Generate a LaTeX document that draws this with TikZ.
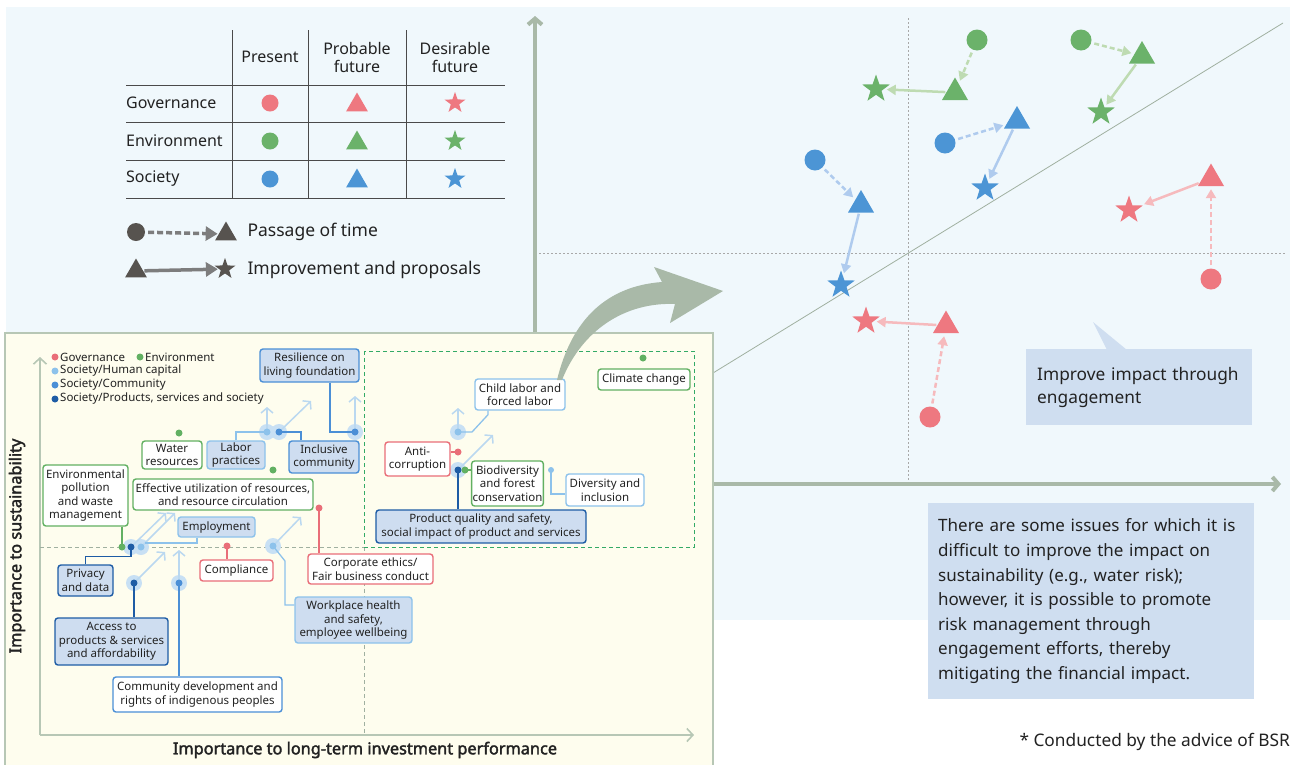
\documentclass[tikz,border=0pt]{standalone}
\usepackage{fontspec}
\setmainfont{Noto Sans}
\newfontfamily\axislabelfont{Noto Sans}[FakeBold=2.2]
\usetikzlibrary{arrows.meta,shapes.geometric,calc}

\definecolor{panelbg}{HTML}{F0F8FC}
\definecolor{insetbg}{HTML}{FEFDEE}
\definecolor{insetline}{HTML}{B7C7B5}
\definecolor{axisgreen}{HTML}{A9B9A8}
\definecolor{dotgray}{HTML}{A8A8A8}
\definecolor{tline}{HTML}{4A4A4A}
\definecolor{txt}{HTML}{222222}
\definecolor{sred}{HTML}{EE7880}
\definecolor{sgreen}{HTML}{6BB26A}
\definecolor{sblue}{HTML}{4C95D5}
\definecolor{lred}{HTML}{F6BABD}
\definecolor{lgreen}{HTML}{BEDBB2}
\definecolor{lblue}{HTML}{AFCBEE}
\definecolor{legdark}{HTML}{57534F}
\definecolor{legarrow}{HTML}{7D7D7D}
\definecolor{callfill}{HTML}{CFDEF0}
\definecolor{igov}{HTML}{E96E78}
\definecolor{ienv}{HTML}{62B062}
\definecolor{ihum}{HTML}{8DC2EB}
\definecolor{icom}{HTML}{4B8FD6}
\definecolor{iprod}{HTML}{1E5CA5}
\definecolor{palearrow}{HTML}{BAD8F0}
\definecolor{halo}{HTML}{C8E0F4}
\definecolor{boxfill}{HTML}{CEDDF0}
\definecolor{qgray}{HTML}{A0B0A0}
\definecolor{qgreen}{HTML}{33AA66}

\tikzset{
  ibox/.style={draw=#1, rounded corners=3pt, line width=1.4pt, fill=white,
    align=center, inner sep=1pt, text=txt, font=\fontsize{11.5}{13.5}\selectfont},
  filledbox/.style={ibox=#1, fill=boxfill},
  dotm/.style={circle, fill=#1, inner sep=0pt, minimum size=7},
  halom/.style={circle, fill=halo, inner sep=0pt, minimum size=16},
  pale/.style={draw=palearrow, line width=1.5pt, -{Straight Barb[length=5pt,width=12pt]}},
  link/.style={draw=#1, line width=1.3pt},
  pcirc/.style={circle, fill=#1, inner sep=0pt, minimum size=21},
  ptri/.style={regular polygon, regular polygon sides=3, fill=#1, inner sep=0pt, minimum size=30},
  pstar/.style={star, star points=5, star point ratio=2.5, fill=#1, inner sep=0pt, minimum size=29},
  tcirc/.style={circle, fill=#1, inner sep=0pt, minimum size=17},
  ttri/.style={regular polygon, regular polygon sides=3, fill=#1, inner sep=0pt, minimum size=25},
  tstar/.style={star, star points=5, star point ratio=2.5, fill=#1, inner sep=0pt, minimum size=22},
  timearrow/.style={draw=#1, line width=2.5pt, dash pattern=on 5pt off 3pt,
    -{Triangle[length=9pt,width=10pt]}, shorten >=3pt, shorten <=3pt},
  improvearrow/.style={draw=#1, line width=2.5pt,
    -{Triangle[length=9pt,width=10pt]}, shorten >=3pt, shorten <=1pt},
  tabtext/.style={text=txt, font=\fontsize{16}{18}\selectfont},
  legtext/.style={text=txt, font=\fontsize{17.5}{20}\selectfont, anchor=west},
  keytext/.style={text=txt, font=\fontsize{11.5}{13}\selectfont, anchor=west, inner sep=0pt},
  axislabel/.style={text=txt, font=\axislabelfont\fontsize{16.3}{18}\selectfont},
}

\begin{document}
\begin{tikzpicture}[x=1pt,y=-1pt]
\useasboundingbox (0,0) rectangle (1290,764);
\fill[white] (0,0) rectangle (1290,764);
\fill[panelbg] (6,7) rectangle (1290,620);

% ---------- quadrant guides of the right chart ----------
\draw[dotgray, line width=0.8pt, dash pattern=on 2pt off 2pt] (908,18) -- (908,484);
\draw[dotgray, line width=0.8pt, dash pattern=on 2pt off 2pt] (535,253) -- (1285,253);
\draw[qgray, line width=0.8pt] (713,373) -- (1283,23);

% ---------- chart axes ----------
\coordinate (vaxisB) at (535,336);
\coordinate (vaxisT) at (535,16);
\coordinate (haxisL) at (712,484);
\coordinate (haxisR) at (1281,484);
\draw[axisgreen, line width=4pt, -{Straight Barb[length=6pt,width=14pt]}] (vaxisB) -- (vaxisT);
\draw[axisgreen, line width=4pt, -{Straight Barb[length=6pt,width=14pt]}] (haxisL) -- (haxisR);

% ---------- materiality inset ----------
\draw[insetline, fill=insetbg, line width=2pt] (5,333) rectangle (713,775);

% inner axes
\coordinate (iO) at (40,735);
\coordinate (iY) at (40,357);
\coordinate (iX) at (694,735);
\draw[insetline, line width=1.6pt, -{Straight Barb[length=6pt,width=13pt]}] (iO) -- (iY);
\draw[insetline, line width=1.6pt, -{Straight Barb[length=6pt,width=13pt]}] (iO) -- (iX);
\node[rotate=90, axislabel] (ylab) at (17,546) {Importance to sustainability};
\node[axislabel] (xlab) at (365,750) {Importance to long-term investment performance};

% quadrant split
\draw[qgray, line width=0.9pt, dash pattern=on 4pt off 3pt] (40,547) -- (364,547);
\draw[qgray, line width=0.9pt, dash pattern=on 4pt off 3pt] (364,547) -- (364,735);
\draw[qgreen, line width=1pt, dash pattern=on 4pt off 3pt] (364,351) rectangle (694,547);

% category key
\node[dotm=igov] (kgov) at (55,357) {};
\node[keytext] (kgovt) at (60,357) {Governance};
\node[dotm=ienv] (kenv) at (140,357) {};
\node[keytext] (kenvt) at (145,357) {Environment};
\node[dotm=ihum] (khum) at (55,371) {};
\node[keytext] (khumt) at (60,371) {Society/Human capital};
\node[dotm=icom] (kcom) at (55,385) {};
\node[keytext] (kcomt) at (60,385) {Society/Community};
\node[dotm=iprod] (kprd) at (55,399) {};
\node[keytext] (kprdt) at (60,399) {Society/Products, services and society};

% issue positions
\coordinate (hLab) at (267,432);
\coordinate (cInc) at (279,432);
\coordinate (cRes) at (355,432);
\coordinate (eWat) at (179,433);
\coordinate (eEff) at (273,470);
\coordinate (eEnv) at (122,547);
\coordinate (pPri) at (131,547);
\coordinate (hEmp) at (141,547);
\coordinate (gCom) at (227,546);
\coordinate (hWrk) at (273,546);
\coordinate (gCor) at (319,508);
\coordinate (pAcc) at (134,583);
\coordinate (cDev) at (179,583);
\coordinate (eCli) at (643,358);
\coordinate (hChi) at (458,432);
\coordinate (gAnt) at (458,452);
\coordinate (pPrd) at (458,470);
\coordinate (eBio) at (465,470);
\coordinate (hDiv) at (551,470);

% halos behind moving issues
\foreach \p in {hLab,cInc,cRes,pPri,hEmp,hWrk,pAcc,cDev,hChi,pPrd}
  \node[halom] at (\p) {};

% expected movement of issues
\coordinate (hLabT) at (267,407);
\coordinate (cIncT) at (311,401);
\coordinate (cResT) at (355,396);
\coordinate (pPriT) at (166,513);
\coordinate (hEmpT) at (175,513);
\coordinate (hWrkT) at (301,517);
\coordinate (pAccT) at (165,552);
\coordinate (cDevT) at (179,550);
\coordinate (hChiT) at (458,408);
\coordinate (pPrdT) at (493,435);
\draw[pale] (hLab) -- (hLabT);
\draw[pale] (cInc) -- (cIncT);
\draw[pale] (cRes) -- (cResT);
\draw[pale] (pPri) -- (pPriT);
\draw[pale] (hEmp) -- (hEmpT);
\draw[pale] (hWrk) -- (hWrkT);
\draw[pale] (pAcc) -- (pAccT);
\draw[pale] (cDev) -- (cDevT);
\draw[pale] (hChi) -- (hChiT);
\draw[pale] (pPrd) -- (pPrdT);

% issue labels
\node[filledbox=icom, minimum width=99, minimum height=33] (res) at (309.5,365.5) {Resilience on\\living foundation};
\node[ibox=ienv, minimum width=60, minimum height=28] (wat) at (172,455) {Water\\resources};
\node[filledbox=ihum, minimum width=58, minimum height=28] (lab) at (236,455) {Labor\\practices};
\node[filledbox=icom, minimum width=70, minimum height=32] (inc) at (324,457) {Inclusive\\community};
\node[ibox=ienv, minimum width=85, minimum height=61] (envp) at (85.5,495.5) {Environmental\\pollution\\and waste\\management};
\node[ibox=ienv, minimum width=180, minimum height=31] (eff) at (223,494.5) {Effective utilization of resources,\\and resource circulation};
\node[filledbox=ihum, minimum width=77, minimum height=20] (emp) at (216.5,527) {Employment};
\node[ibox=igov, minimum width=73, minimum height=21] (comp) at (236.5,570.5) {Compliance};
\node[ibox=igov, minimum width=125, minimum height=30] (corp) at (370.5,569) {Corporate ethics/\\Fair business conduct};
\node[filledbox=iprod, minimum width=55, minimum height=31] (priv) at (85.5,580.5) {Privacy\\and data};
\node[filledbox=ihum, minimum width=117, minimum height=46] (work) at (353.5,620) {Workplace health\\and safety,\\employee wellbeing};
\node[filledbox=iprod, minimum width=113, minimum height=47] (acc) at (111.5,641.5) {Access to\\products \& services\\and affordability};
\node[ibox=icom, minimum width=169, minimum height=35] (dev) at (197.5,694.5) {Community development and\\rights of indigenous peoples};
\node[ibox=ienv, minimum width=92, minimum height=21] (cli) at (644,379.5) {Climate change};
\node[ibox=ihum, minimum width=90, minimum height=31] (chi) at (520,394.5) {Child labor and\\forced labor};
\node[ibox=igov, minimum width=65, minimum height=34] (anti) at (417.5,459) {Anti-\\corruption};
\node[ibox=ienv, minimum width=71, minimum height=45] (bio) at (507.5,483.5) {Biodiversity\\and forest\\conservation};
\node[ibox=ihum, minimum width=78, minimum height=32] (div) at (605,490) {Diversity and\\inclusion};
\node[filledbox=iprod, minimum width=210, minimum height=33] (prod) at (481,526.5) {Product quality and safety,\\social impact of product and services};

% leader lines from labels to positions
\draw[link=ihum] (lab.north) |- (hLab);
\draw[link=icom] ([xshift=-23pt]inc.north) |- (cInc);
\draw[link=icom] ([xshift=20.5pt]res.south) |- (cRes);
\draw[link=ienv] ([xshift=36.5pt]envp.south) -- (eEnv);
\draw[link=iprod] (priv.north) -- ++(0,-8) -| (pPri);
\draw[link=ihum] ([xshift=-19.5pt]emp.south) |- ($(hEmp)+(4,-4)$);
\draw[link=igov] (gCom) -- (gCom |- comp.north);
\draw[link=ihum] (hWrk) -- ++(12,15) |- ([yshift=15pt]work.west);
\draw[link=igov] (gCor) -- (gCor |- corp.north);
\draw[link=iprod] (pAcc) -- (pAcc |- acc.north);
\draw[link=icom] (cDev) -- (cDev |- dev.north);
\draw[link=ihum] (hChi) -- ++(14,0) -- ([xshift=-32pt,yshift=-4pt]chi.south) -- ([xshift=-32pt]chi.south);
\draw[link=igov] (anti.east |- gAnt) -- (gAnt);
\draw[link=ienv] (eBio) -- (eBio -| bio.west);
\draw[link=iprod] (pPrd) -- (pPrd |- prod.north);
\draw[link=ihum] (hDiv) |- ([yshift=-4pt]div.west);

% issue dots
\node[dotm=ihum] at (hLab) {};
\node[dotm=icom] at (cInc) {};
\node[dotm=icom] at (cRes) {};
\node[dotm=ienv] at (eWat) {};
\node[dotm=ienv] at (eEff) {};
\node[dotm=ienv] at (eEnv) {};
\node[dotm=iprod] at (pPri) {};
\node[dotm=ihum] at (hEmp) {};
\node[dotm=igov] at (gCom) {};
\node[dotm=ihum] at (hWrk) {};
\node[dotm=igov] at (gCor) {};
\node[dotm=iprod] at (pAcc) {};
\node[dotm=icom] at (cDev) {};
\node[dotm=ienv] at (eCli) {};
\node[dotm=ihum] at (hChi) {};
\node[dotm=igov] at (gAnt) {};
\node[dotm=iprod] at (pPrd) {};
\node[dotm=ienv] at (eBio) {};
\node[dotm=ihum, minimum size=6] at (hDiv) {};

% ---------- arrow from the inset to the chart ----------
\fill[axisgreen] (557,380) .. controls (572,318) and (608,286) .. (662,282)
  -- (654,267) -- (723,291) -- (670,323) -- (675,304)
  .. controls (625,302) and (582,330) .. (562,380) -- cycle;

% ---------- call-outs ----------
\fill[callfill] (1093,322) -- (1107,350) -- (1127,350) -- cycle;
\node[fill=callfill, anchor=north west, minimum width=226, minimum height=76,
      text width=204, inner xsep=11pt, align=left, text=txt,
      font=\fontsize{17.3}{23}\selectfont] (impr) at (1026,349)
  {Improve impact through\\engagement};
\node[fill=callfill, anchor=north west, minimum width=326, minimum height=196,
      text width=306, inner xsep=10pt, align=left, text=txt,
      font=\fontsize{17}{24.6}\selectfont] (note) at (928,503)
  {There are some issues for which it is\\difficult to improve the impact on\\sustainability (e.g., water risk);\\however, it is possible to promote\\risk management through\\engagement efforts, thereby\\mitigating the financial impact.};
\node[anchor=east, inner sep=0pt, text=txt, font=\fontsize{17.3}{19}\selectfont] (foot) at (1290,742)
  {* Conducted by the advice of BSR};

% ---------- symbol table ----------
\draw[tline, line width=1pt] (126,85) -- (505,85);
\draw[tline, line width=1pt] (126,122) -- (505,122);
\draw[tline, line width=1pt] (126,160) -- (505,160);
\draw[tline, line width=1pt] (126,198) -- (505,198);
\draw[tline, line width=1pt] (232,30) -- (232,198);
\draw[tline, line width=1pt] (308,30) -- (308,198);
\draw[tline, line width=1pt] (406,30) -- (406,198);
\node[tabtext] (hp) at (270,57) {Present};
\node[tabtext, align=center] (hpf) at (357,57) {Probable\\future};
\node[tabtext, align=center] (hdf) at (455,57) {Desirable\\future};
\node[tabtext, anchor=west, inner sep=0pt] (rg) at (126,103) {Governance};
\node[tabtext, anchor=west, inner sep=0pt] (re) at (126,141) {Environment};
\node[tabtext, anchor=west, inner sep=0pt] (rs) at (126,179) {Society};
\node[tcirc=sred] at (270,103) {};
\node[ttri=sred] at (357,105) {};
\node[tstar=sred] at (455,103) {};
\node[tcirc=sgreen] at (270,141) {};
\node[ttri=sgreen] at (357,143) {};
\node[tstar=sgreen] at (455,141) {};
\node[tcirc=sblue] at (270,179) {};
\node[ttri=sblue] at (357,181) {};
\node[tstar=sblue] at (455,179) {};

% ---------- symbol legend ----------
\node[tcirc=legdark, minimum size=18] (lc) at (136,232) {};
\node[ttri=legdark] (lt) at (226,234) {};
\draw[legarrow, line width=3.5pt, dash pattern=on 6pt off 3pt,
      -{Triangle[length=12pt,width=14pt]}, shorten <=3pt, shorten >=1pt] (lc) -- (lt);
\node[legtext] (lpt) at (244,232) {Passage of time};
\node[ttri=legdark] (lt2) at (136,271) {};
\node[tstar=legdark] (ls) at (225,269) {};
\draw[legarrow, line width=3.5pt, -{Triangle[length=12pt,width=14pt]}, shorten <=1pt, shorten >=1pt] (lt2) -- (ls);
\node[legtext] (lip) at (244,270) {Improvement and proposals};

% ---------- chart symbols ----------
% environment
\node[pcirc=sgreen] (g1c) at (977,40) {};
\node[ptri=sgreen] (g1t) at (955,92.5) {};
\node[pstar=sgreen] (g1s) at (876,89) {};
\node[pcirc=sgreen] (g2c) at (1081,40) {};
\node[ptri=sgreen] (g2t) at (1142,56) {};
\node[pstar=sgreen] (g2s) at (1101,112) {};
% society
\node[pcirc=sblue] (b1c) at (945,143) {};
\node[ptri=sblue] (b1t) at (1017,121) {};
\node[pstar=sblue] (b1s) at (985,188) {};
\node[pcirc=sblue] (b2c) at (815,160) {};
\node[ptri=sblue] (b2t) at (861,205) {};
\node[pstar=sblue] (b2s) at (841,285) {};
% governance
\node[pcirc=sred] (r1c) at (1211,279) {};
\node[ptri=sred] (r1t) at (1211,178.5) {};
\node[pstar=sred] (r1s) at (1129,210) {};
\node[pcirc=sred] (r2c) at (930,417) {};
\node[ptri=sred] (r2t) at (946,325.5) {};
\node[pstar=sred] (r2s) at (866,321) {};

\draw[timearrow=lgreen] (g1c) -- (g1t);
\draw[improvearrow=lgreen] (g1t) -- (g1s);
\draw[timearrow=lgreen] (g2c) -- (g2t);
\draw[improvearrow=lgreen] (g2t) -- (g2s);
\draw[timearrow=lblue] (b1c) -- (b1t);
\draw[improvearrow=lblue] (b1t) -- (b1s);
\draw[timearrow=lblue] (b2c) -- (b2t);
\draw[improvearrow=lblue] (b2t) -- (b2s);
\draw[timearrow=lred] (r1c) -- (r1t);
\draw[improvearrow=lred] (r1t) -- (r1s);
\draw[timearrow=lred] (r2c) -- (r2t);
\draw[improvearrow=lred] (r2t) -- (r2s);
\end{tikzpicture}
\end{document}
